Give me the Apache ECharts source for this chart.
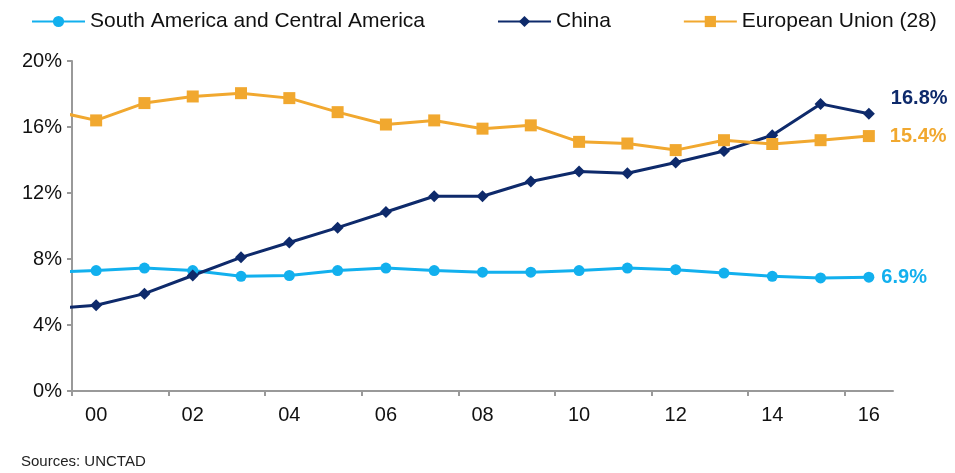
<!DOCTYPE html>
<html>
<head>
<meta charset="utf-8">
<script src="https://cdn.jsdelivr.net/npm/echarts@6/dist/echarts.min.js"></script>
<style>
html,body{margin:0;padding:0;background:#fff;}
#c{width:955px;height:473px;}
</style>
</head>
<body>
<div id="c"></div>
<script>
// Years: 1999 is only the partial segment entering at the left edge of the axis
const years = [1999,2000,2001,2002,2003,2004,2005,2006,2007,2008,2009,2010,2011,2012,2013,2014,2015,2016];
const labelYears = [2000,2002,2004,2006,2008,2010,2012,2014,2016];
const tickLabels = ['00','02','04','06','08','10','12','14','16'];
const southCentralAmerica = [7.2,7.3,7.45,7.3,6.95,7.0,7.3,7.45,7.3,7.2,7.2,7.3,7.45,7.35,7.15,6.95,6.85,6.9];
const china = [4.97,5.2,5.9,7.0,8.1,9.0,9.9,10.85,11.8,11.8,12.7,13.3,13.2,13.85,14.55,15.5,17.4,16.8];
const eu28 = [17.05,16.4,17.45,17.85,18.05,17.75,16.9,16.15,16.4,15.9,16.1,15.1,15.0,14.6,15.2,14.97,15.2,15.45];
const endLabels = ['6.9%','16.8%','15.4%'];

const C_SA = '#12B0EE', C_CN = '#0E2A6B', C_EU = '#F1A82F';
const FONT = 'Liberation Sans, Arial, sans-serif';

function build(vals, endIdx, color, labelOpt) {
  return years.map((y, i) => {
    const item = { value: [y, vals[i]] };
    if (i === 0) item.symbol = 'none';
    if (i === years.length - 1) {
      item.label = Object.assign({
        show: true, position: 'right', formatter: endLabels[endIdx],
        color: color, fontFamily: FONT, fontWeight: 'bold', fontSize: 20
      }, labelOpt);
    }
    return item;
  });
}

const chart = echarts.init(document.getElementById('c'), null, {renderer: 'canvas'});
chart.setOption({
  animation: false,
  textStyle: { fontFamily: FONT },
  legend: {
    top: 6, left: 26, itemGap: 72, itemWidth: 53, itemHeight: 14,
    textStyle: { fontSize: 21, color: '#111', fontFamily: FONT },
    data: ['South America and Central America', 'China', 'European Union (28)']
  },
  graphic: [{
    type: 'text', left: 21, top: 454,
    style: { text: 'Sources: UNCTAD', fontSize: 15, fill: '#222', fontFamily: FONT }
  }],
  grid: { left: 72, right: 62, top: 61, bottom: 82, containLabel: false },
  xAxis: {
    type: 'value', min: 1999.5, max: 2016.5,
    axisLine: { show: true, onZero: false, lineStyle: { color: '#999', width: 2 } },
    axisTick: { show: true, length: 5, customValues: labelYears.map(v => v - 0.5), lineStyle: { color: '#999', width: 2 } },
    axisLabel: {
      customValues: labelYears,
      formatter: v => tickLabels[labelYears.indexOf(Math.round(v))],
      fontSize: 20, color: '#111', margin: 14, fontFamily: FONT
    },
    splitLine: { show: false }
  },
  yAxis: {
    type: 'value', min: 0, max: 20, interval: 4,
    axisLine: { show: true, lineStyle: { color: '#999', width: 2 } },
    axisTick: { show: true, length: 5, lineStyle: { color: '#999', width: 2 } },
    axisLabel: { formatter: '{value}%', fontSize: 20, color: '#111', margin: 10, fontFamily: FONT },
    splitLine: { show: false }
  },
  series: [{
    name: 'South America and Central America', type: 'line',
    symbol: 'circle', symbolSize: 11, clip: true,
    lineStyle: { color: C_SA, width: 3 }, itemStyle: { color: C_SA },
    data: build(southCentralAmerica, 0, C_SA, { distance: 7 })
  }, {
    name: 'China', type: 'line',
    symbol: 'diamond', symbolSize: 12, clip: true,
    lineStyle: { color: C_CN, width: 3 }, itemStyle: { color: C_CN },
    data: build(china, 1, C_CN, { distance: 16, offset: [0, -15] })
  }, {
    name: 'European Union (28)', type: 'line',
    symbol: 'rect', symbolSize: 12, clip: true,
    lineStyle: { color: C_EU, width: 3 }, itemStyle: { color: C_EU },
    data: build(eu28, 2, C_EU, { distance: 15 })
  }]
});
</script>
</body>
</html>
